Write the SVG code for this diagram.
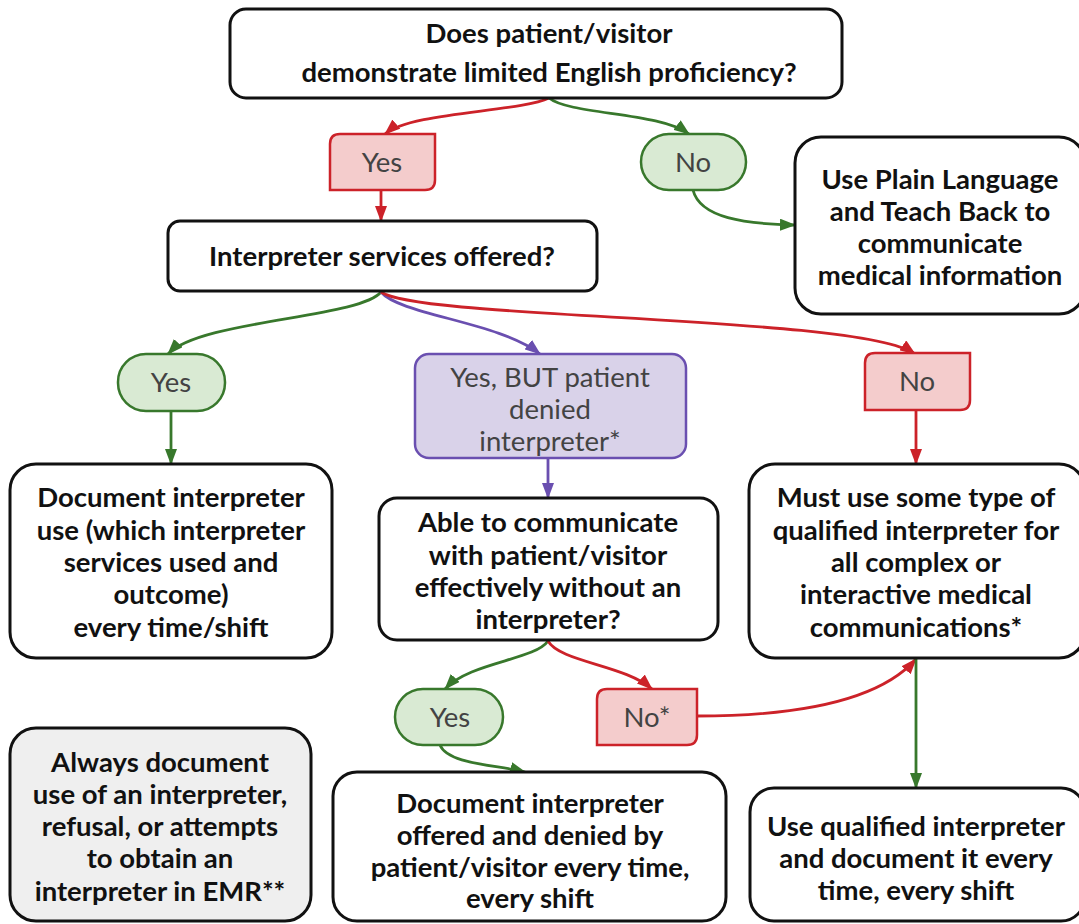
<svg xmlns="http://www.w3.org/2000/svg" width="1079" height="924" viewBox="0 0 1079 924">
<defs>
<style>
.box{fill:#fff;stroke:#111;stroke-width:3}
.gbox{fill:#efefef;stroke:#111;stroke-width:3}
.t{font-family:Lato,"Liberation Sans",sans-serif;font-weight:bold;font-size:27.5px;fill:#111;text-anchor:middle}
.l{font-family:Lato,"Liberation Sans",sans-serif;font-size:27.5px;fill:#434343;text-anchor:middle}
.red{fill:#f4cccc;stroke:#cc2229;stroke-width:2.5}
.grn{fill:#d9ead3;stroke:#38782c;stroke-width:2.5}
.pur{fill:#d9d2e9;stroke:#6a4fb0;stroke-width:2.5}
.cr{fill:none;stroke:#cc2229;stroke-width:2.8}
.cg{fill:none;stroke:#38782c;stroke-width:2.8}
.cp{fill:none;stroke:#6a4fb0;stroke-width:2.8}
</style>
<marker id="ar" viewBox="0 0 16 12" refX="15" refY="6" markerWidth="16" markerHeight="12" markerUnits="userSpaceOnUse" orient="auto"><path d="M0,0 L16,6 L0,12 Z" fill="#cc2229"/></marker>
<marker id="ag" viewBox="0 0 16 12" refX="15" refY="6" markerWidth="16" markerHeight="12" markerUnits="userSpaceOnUse" orient="auto"><path d="M0,0 L16,6 L0,12 Z" fill="#38782c"/></marker>
<marker id="ap" viewBox="0 0 16 12" refX="15" refY="6" markerWidth="16" markerHeight="12" markerUnits="userSpaceOnUse" orient="auto"><path d="M0,0 L16,6 L0,12 Z" fill="#6a4fb0"/></marker>
</defs>
<rect width="1079" height="924" fill="#fff"/>

<g id="connectors">
<path class="cr" d="M549,98 C520,112 410,112 385,134" marker-end="url(#ar)"/>
<path class="cg" d="M549,98 C570,115 660,112 689,134" marker-end="url(#ag)"/>
<path class="cr" d="M381,190 L381,221" marker-end="url(#ar)"/>
<path class="cg" d="M693,190 C700,218 745,224 795,225" marker-end="url(#ag)"/>
<path class="cg" d="M381,292 C360,318 200,320 168,354" marker-end="url(#ag)"/>
<path class="cp" d="M381,292 C400,315 500,322 540,354" marker-end="url(#ap)"/>
<path class="cr" d="M381,292 C420,320 860,315 915,354" marker-end="url(#ar)"/>
<path class="cg" d="M171,411 L171,464" marker-end="url(#ag)"/>
<path class="cp" d="M548,458 L548,498" marker-end="url(#ap)"/>
<path class="cr" d="M916,410 L916,464" marker-end="url(#ar)"/>
<path class="cg" d="M548,641 C535,660 470,662 445,689" marker-end="url(#ag)"/>
<path class="cr" d="M548,641 C560,662 625,665 652,689" marker-end="url(#ar)"/>
<path class="cg" d="M440,745 C448,765 500,765 525,772" marker-end="url(#ag)"/>
<path class="cr" d="M697,716 C800,716 880,700 916,659" marker-end="url(#ar)"/>
<path class="cg" d="M916,659 L916,788" marker-end="url(#ag)"/>
</g>

<g id="q1"><rect class="box" x="230" y="9" width="612" height="89" rx="16"/>
<text class="t" x="549" y="43">Does patient/visitor</text>
<text class="t" x="549" y="82">demonstrate limited English proficiency?</text></g>

<g id="yes1"><path class="red" d="M340,134 H435 V180 Q435,190 425,190 H330 V144 Q330,134 340,134 Z"/>
<text class="l" x="382" y="172">Yes</text></g>

<g id="no1"><rect class="grn" x="641" y="134" width="105" height="56" rx="28"/>
<text class="l" x="693" y="172">No</text></g>

<g id="plain"><rect class="box" x="795" y="137" width="290" height="177" rx="26"/>
<text class="t" x="940" y="189">Use Plain Language</text>
<text class="t" x="940" y="221">and Teach Back to</text>
<text class="t" x="940" y="253">communicate</text>
<text class="t" x="940" y="285">medical information</text></g>

<g id="q2"><rect class="box" x="168" y="221" width="429" height="70" rx="12"/>
<text class="t" x="382" y="266">Interpreter services offered?</text></g>

<g id="yes2"><rect class="grn" x="118" y="354" width="107" height="57" rx="28"/>
<text class="l" x="171" y="392">Yes</text></g>

<g id="denied"><rect class="pur" x="415" y="354" width="271" height="104" rx="14"/>
<text class="l" x="550" y="387">Yes, BUT patient</text>
<text class="l" x="550" y="419">denied</text>
<text class="l" x="550" y="451">interpreter*</text></g>

<g id="no2"><path class="red" d="M875,353 H970 V400 Q970,410 960,410 H865 V363 Q865,353 875,353 Z"/>
<text class="l" x="917" y="391">No</text></g>

<g id="docuse"><rect class="box" x="10" y="464" width="322" height="194" rx="26"/>
<text class="t" x="171" y="507">Document interpreter</text>
<text class="t" x="171" y="540">use (which interpreter</text>
<text class="t" x="171" y="572">services used and</text>
<text class="t" x="171" y="604">outcome)</text>
<text class="t" x="171" y="637">every time/shift</text></g>

<g id="q3"><rect class="box" x="379" y="498" width="339" height="142" rx="18"/>
<text class="t" x="548" y="532">Able to communicate</text>
<text class="t" x="548" y="565">with patient/visitor</text>
<text class="t" x="548" y="597">effectively without an</text>
<text class="t" x="548" y="629">interpreter?</text></g>

<g id="must"><rect class="box" x="749" y="464" width="336" height="194" rx="26"/>
<text class="t" x="916" y="507">Must use some type of</text>
<text class="t" x="916" y="540">qualified interpreter for</text>
<text class="t" x="916" y="572">all complex or</text>
<text class="t" x="916" y="604">interactive medical</text>
<text class="t" x="916" y="637">communications*</text></g>

<g id="yes3"><rect class="grn" x="395" y="689" width="108" height="56" rx="28"/>
<text class="l" x="450" y="727">Yes</text></g>

<g id="no3"><path class="red" d="M607,689 H697 V735 Q697,745 687,745 H597 V699 Q597,689 607,689 Z"/>
<text class="l" x="647" y="727">No*</text></g>

<g id="always"><rect class="gbox" x="10" y="728" width="301" height="193" rx="26"/>
<text class="t" x="160" y="772">Always document</text>
<text class="t" x="160" y="804">use of an interpreter,</text>
<text class="t" x="160" y="836">refusal, or attempts</text>
<text class="t" x="160" y="868">to obtain an</text>
<text class="t" x="160" y="901">interpreter in EMR**</text></g>

<g id="docdenied"><rect class="box" x="333" y="772" width="393" height="149" rx="24"/>
<text class="t" x="530" y="813">Document interpreter</text>
<text class="t" x="530" y="845">offered and denied by</text>
<text class="t" x="530" y="877">patient/visitor every time,</text>
<text class="t" x="530" y="908">every shift</text></g>

<g id="usequal"><rect class="box" x="750" y="788" width="335" height="133" rx="24"/>
<text class="t" x="916" y="836">Use qualified interpreter</text>
<text class="t" x="916" y="868">and document it every</text>
<text class="t" x="916" y="900">time, every shift</text></g>
</svg>
